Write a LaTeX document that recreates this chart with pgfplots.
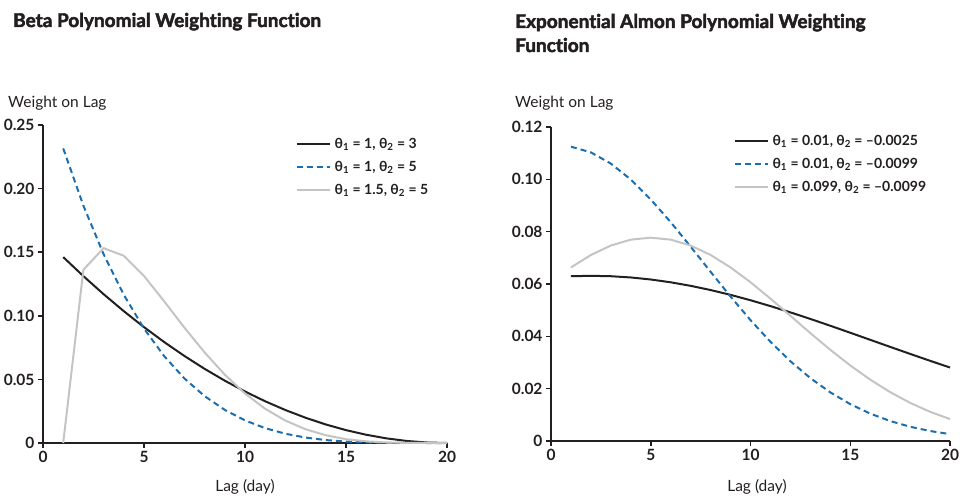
\documentclass[border=0pt]{standalone}
\usepackage{pgfplots}
\pgfplotsset{compat=1.18}
\usepackage{fontspec}
\setmainfont{Lato}[Ligatures=NoCommon]
\newfontfamily\titlefont{Lato}[Ligatures=NoCommon, BoldFeatures={FakeBold=2.5}]

\definecolor{ink}{HTML}{231F20}
\definecolor{wblue}{HTML}{1B6FB0}
\definecolor{wgray}{HTML}{C4C4C4}

\pgfplotsset{
  lagaxis/.style={
    scale only axis,
    axis lines*=left,
    axis line style={ink, line width=2pt},
    every tick/.style={ink, line width=1.5pt},
    tick align=outside,
    major tick length=5pt,
    xmin=0, xmax=20,
    xtick={0,5,10,15,20},
    ymin=0,
    ticklabel style={font=\fontsize{15.5}{18}\selectfont\bfseries, text=ink},
    /pgf/number format/assume math mode=true,
    clip=false,
    legend cell align=left,
    legend style={draw=none, fill=none, font=\fontsize{14}{17}\selectfont\bfseries,
      text=ink, row sep=7pt, anchor=north west, inner sep=0pt,
      nodes={inner xsep=4pt}},
    legend image code/.code={\draw[##1] (0pt,0pt) -- (33pt,0pt);},
  },
  s1/.style={ink, line width=2pt, no marks},
  s2/.style={wblue, line width=2pt, dash pattern=on 6pt off 4pt, no marks},
  s3/.style={wgray, line width=2pt, no marks},
}

\begin{document}
\begin{tikzpicture}
\useasboundingbox (0pt,0pt) rectangle (960pt,495pt);

% left panel: beta polynomial
\begin{axis}[lagaxis,
  at={(43pt,52pt)}, anchor=south west,
  width=404pt, height=318pt,
  ymax=0.25,
  ytick={0,0.05,0.10,0.15,0.20,0.25},
  yticklabels={0,0.05,0.10,0.15,0.20,0.25},
  legend style={at={(rel axis cs:0.625,0.965)}},
]
\addplot[s1] coordinates {
 (1,0.14615) (2,0.13117) (3,0.11700) (4,0.10364) (5,0.09109)
 (6,0.07935) (7,0.06842) (8,0.05830) (9,0.04899) (10,0.04049)
 (11,0.03279) (12,0.02591) (13,0.01984) (14,0.01457) (15,0.01012)
 (16,0.00648) (17,0.00364) (18,0.00162) (19,0.00040) (20,0)
};
\addplot[s2] coordinates {
 (1,0.23161) (2,0.18657) (3,0.14844) (4,0.11647) (5,0.08997)
 (6,0.06827) (7,0.05076) (8,0.03685) (9,0.02602) (10,0.01777)
 (11,0.01166) (12,0.00728) (13,0.00427) (14,0.00230) (15,0.00111)
 (16,0.00045) (17,0.00014) (18,0.00003) (19,0.00000) (20,0)
};
\addplot[s3] coordinates {
 (1,0) (2,0.1362) (3,0.1532) (4,0.1472) (5,0.1313)
 (6,0.1114) (7,0.0907) (8,0.0712) (9,0.0537) (10,0.0389)
 (11,0.0269) (12,0.0176) (13,0.0108) (14,0.0061) (15,0.0030)
 (16,0.0013) (17,0.0004) (18,0.0001) (19,0) (20,0)
};
\legend{{θ\textsubscript{1} = 1, θ\textsubscript{2} = 3},
        {θ\textsubscript{1} = 1, θ\textsubscript{2} = 5},
        {θ\textsubscript{1} = 1.5, θ\textsubscript{2} = 5}}
\end{axis}

% right panel: exponential Almon
\begin{axis}[lagaxis,
  at={(551pt,54pt)}, anchor=south west,
  width=399pt, height=314pt,
  ymax=0.12,
  ytick={0,0.02,0.04,0.06,0.08,0.10,0.12},
  yticklabels={0,0.02,0.04,0.06,0.08,0.10,0.12},
  legend style={at={(rel axis cs:0.457,0.98)}},
]
\addplot[s1] coordinates {
 (1,0.06297) (2,0.06313) (3,0.06297) (4,0.06250) (5,0.06172)
 (6,0.06065) (7,0.05930) (8,0.05769) (9,0.05585) (10,0.05379)
 (11,0.05155) (12,0.04916) (13,0.04665) (14,0.04404) (15,0.04137)
 (16,0.03867) (17,0.03597) (18,0.03329) (19,0.03065) (20,0.02808)
};
\addplot[s2] coordinates {
 (1,0.11248) (2,0.11029) (3,0.10602) (4,0.09991) (5,0.09231)
 (6,0.08362) (7,0.07426) (8,0.06466) (9,0.05519) (10,0.04619)
 (11,0.03790) (12,0.03048) (13,0.02404) (14,0.01858) (15,0.01409)
 (16,0.01047) (17,0.00763) (18,0.00545) (19,0.00382) (20,0.00262)
};
\addplot[s3] coordinates {
 (1,0.06633) (2,0.07109) (3,0.07470) (4,0.07695) (5,0.07771)
 (6,0.07695) (7,0.07470) (8,0.07109) (9,0.06633) (10,0.06067)
 (11,0.05441) (12,0.04784) (13,0.04124) (14,0.03485) (15,0.02888)
 (16,0.02345) (17,0.01868) (18,0.01458) (19,0.01116) (20,0.00838)
};
\legend{{θ\textsubscript{1} = 0.01, θ\textsubscript{2} = –0.0025},
        {θ\textsubscript{1} = 0.01, θ\textsubscript{2} = –0.0099},
        {θ\textsubscript{1} = 0.099, θ\textsubscript{2} = –0.0099}}
\end{axis}

% titles and labels
\begin{scope}[every node/.style={inner sep=0pt, text=ink}]
\node[anchor=base west, font=\fontsize{19}{23}\selectfont\titlefont\bfseries] at (13pt,468pt) {Beta Polynomial Weighting Function};
\node[anchor=base west, font=\fontsize{19}{23}\selectfont\titlefont\bfseries] at (515pt,467pt) {Exponential Almon Polynomial Weighting};
\node[anchor=base west, font=\fontsize{19}{23}\selectfont\titlefont\bfseries] at (515pt,443pt) {Function};
\node[anchor=base west, font=\fontsize{15.5}{18}\selectfont] at (8pt,387pt) {Weight on Lag};
\node[anchor=base west, font=\fontsize{15.5}{18}\selectfont] at (515pt,387pt) {Weight on Lag};
\node[anchor=base, font=\fontsize{15.5}{18}\selectfont] at (245pt,4pt) {Lag (day)};
\node[anchor=base, font=\fontsize{15.5}{18}\selectfont] at (757pt,4pt) {Lag (day)};
\end{scope}
\end{tikzpicture}
\end{document}
